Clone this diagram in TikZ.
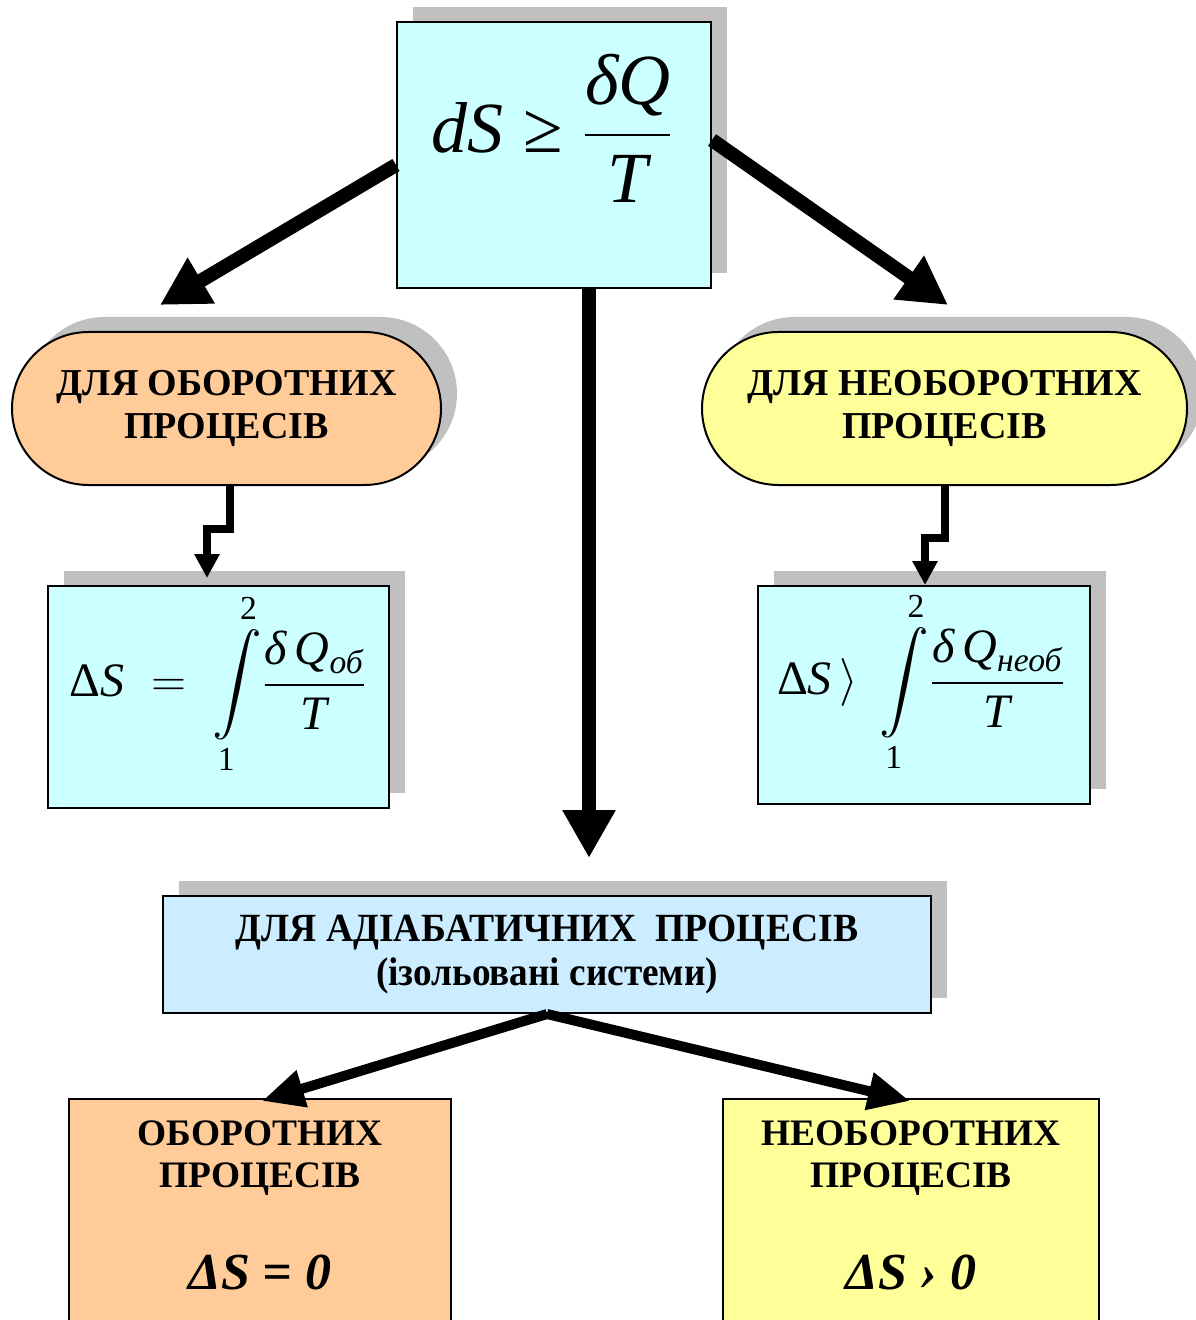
\RequirePackage{fix-cm}
\documentclass[tikz,border=0pt]{standalone}
\usepackage{fontspec}
\setmainfont{Liberation Serif}
\usepackage{amsmath}
\usetikzlibrary{arrows.meta,shapes.misc,shadows,positioning}

\definecolor{boxcyan}{RGB}{204,255,255}
\definecolor{boxorange}{RGB}{255,204,153}
\definecolor{boxyellow}{RGB}{255,255,153}
\definecolor{boxblue}{RGB}{204,236,255}
\definecolor{shadegray}{RGB}{192,192,192}

\newcommand{\pilltext}{\bfseries\fontsize{19}{21.5}\selectfont}
\newcommand{\bottext}{\bfseries\fontsize{18.7}{21}\selectfont}

\tikzset{
  box/.style={draw=black, line width=1pt, inner sep=0pt,
    drop shadow={shadow xshift=8pt, shadow yshift=7.5pt, fill=shadegray, opacity=1}},
  flatbox/.style={draw=black, line width=1pt, inner sep=0pt},
  pill/.style={box, rounded rectangle, align=center, font=\pilltext},
  bigarrow/.style={line width=7pt, -{Triangle[length=24pt,width=25pt]}},
  steparrow/.style={line width=4pt, -{Triangle[length=12pt,width=12pt]}},
  midarrow/.style={line width=5pt, -{Triangle[length=21pt,width=18pt]}},
}

\begin{document}
\begin{tikzpicture}[x=0.5pt,y=-0.5pt]
\useasboundingbox (0,0) rectangle (1195,1320);

% main inequality
\node[box, fill=boxcyan, minimum width=157pt, minimum height=133pt] (top) at (554,155) {};
\node (topf) at (552,128) {\fontsize{36}{40}\selectfont
  $\textit{dS}\mathrel{\text{≥}}\dfrac{\textit{δQ}}{\textit{T}}$};

% reversible / irreversible
\node[pill, fill=boxorange, minimum width=214.5pt, minimum height=76.5pt] (rev) at (226.5,408.5)
  {ДЛЯ ОБОРОТНИХ\\ПРОЦЕСІВ};
\node[pill, fill=boxyellow, minimum width=242.5pt, minimum height=76.5pt] (irr) at (944.5,408.5)
  {ДЛЯ НЕОБОРОТНИХ\\ПРОЦЕСІВ};

% formulas
\node[box, fill=boxcyan, minimum width=170.5pt, minimum height=111pt] (frev) at (218.5,697) {};
\node (frevf) at (218,684) {\fontsize{24}{28}\selectfont
  $\text{Δ}\textit{S}\;=\;\displaystyle\int\limits_{\text{1}}^{\text{2}}\!\frac{\textit{δ\,Q}_{\textit{об}}}{\textit{T}}$};
\node[box, fill=boxcyan, minimum width=166pt, minimum height=109pt] (firr) at (924,695) {};
\node (firrf) at (921,682) {\fontsize{24}{28}\selectfont
  $\text{Δ}\textit{S}\,\rangle\;\displaystyle\int\limits_{\text{1}}^{\text{2}}\!\frac{\textit{δ\,Q}_{\textit{необ}}}{\textit{T}}$};

% adiabatic
\node[box, fill=boxblue, minimum width=384pt, minimum height=58.5pt] (adiab) at (547,954.5) {};
\node (adiabl1) at (547,933) {\scalebox{0.94}[1]{\bfseries\fontsize{20}{22}\selectfont ДЛЯ АДІАБАТИЧНИХ\ \ ПРОЦЕСІВ}};
\node (adiabl2) at (547,976) {\scalebox{0.93}[1]{\bfseries\fontsize{20}{22}\selectfont (ізольовані системи)}};

% bottom boxes
\node[flatbox, fill=boxorange, minimum width=191pt, minimum height=120pt] (brev) at (260,1219) {};
\node[align=center, font=\bottext] (brevtxt) at (260,1158) {ОБОРОТНИХ\\ПРОЦЕСІВ};
\node (brevds) at (260,1272) {\bfseries\itshape\fontsize{26}{28}\selectfont ΔS = 0};
\node[flatbox, fill=boxyellow, minimum width=188pt, minimum height=120pt] (birr) at (911,1219) {};
\node[align=center, font=\bottext] (birrtxt) at (911,1158) {НЕОБОРОТНИХ\\ПРОЦЕСІВ};
\node (birrds) at (911,1272) {\bfseries\itshape\fontsize{26}{28}\selectfont ΔS › 0};

% arrows
\coordinate (revtip) at (160,305);
\coordinate (irrtip) at (948,305);
\coordinate (midtip) at (589,858);
\coordinate (frevtip) at (207,578);
\coordinate (firrtip) at (925,585);
\coordinate (brevtip) at (262,1101);
\coordinate (birrtip) at (910,1101);

\draw[bigarrow] ([yshift=-5pt]top.west) -- (revtip);
\draw[bigarrow] ([yshift=7.5pt]top.east) -- (irrtip);
\draw[bigarrow] ([xshift=17.5pt]top.south) -- (midtip);

\draw[steparrow] ([xshift=1.5pt]rev.south) -- ++(0,43) -| (frevtip);
\draw[steparrow] (irr.south) -- ++(0,52) -| (firrtip);

\draw[midarrow] (adiab.south) -- (brevtip);
\draw[midarrow] (adiab.south) -- (birrtip);
\end{tikzpicture}
\end{document}
